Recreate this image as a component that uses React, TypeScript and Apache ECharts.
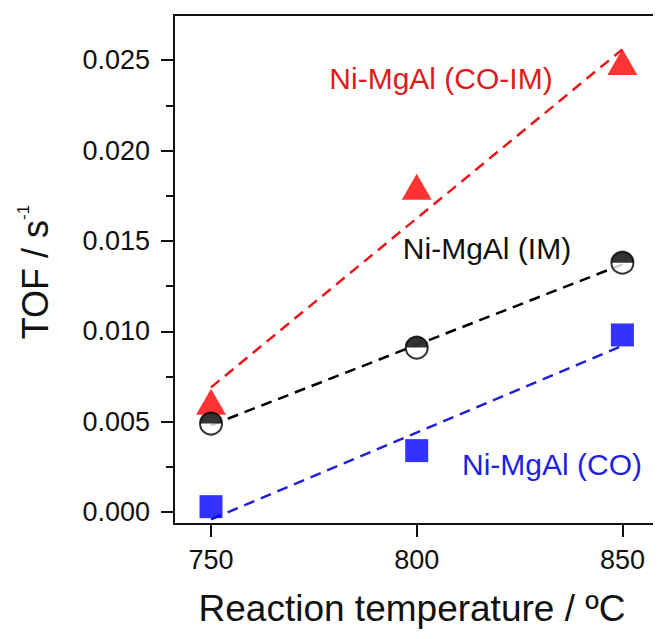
import React, { useEffect, useRef } from "react";
import * as echarts from "echarts";

const temps = [750, 800, 850];
const coImValues = [0.0061, 0.018, 0.0249];
const imValues = [0.0049, 0.0091, 0.0138];
const coValues = [0.0003, 0.0034, 0.0098];

const fitTemps = [750, 850];
const coImFit = [0.0069, 0.0256];
const imFit = [0.0048, 0.0137];
const coFit = [-0.0004, 0.0092];

const xTicks = [750, 800, 850];
const yTicks = [0, 0.005, 0.01, 0.015, 0.02, 0.025];
const yMinorTicks = [0.0025, 0.0075, 0.0125, 0.0175, 0.0225];

const seriesNames = ["Ni-MgAl (CO-IM)", "Ni-MgAl (IM)", "Ni-MgAl (CO)"];

const FONT = 'Arial, "Liberation Sans", Helvetica, sans-serif';
const RED = "#ff0000";
const RED_LINE = "#e8161b";
const BLUE = "#0000ff";
const BLUE_LINE = "#1f1fd6";
const AXIS = "#111111";

const X_MIN = 741;
const X_MAX = 864;
const Y_MIN = -0.00066;
const Y_MAX = 0.0275;

const pairs = (xs: number[], ys: number[]) => xs.map((x, i) => [x, ys[i]]);

export default function App() {
  const ref = useRef<HTMLDivElement>(null);
  useEffect(() => {
    if (!ref.current) return;
    const chart = echarts.init(ref.current, null, { renderer: "svg" });
    const dashed = (color: string) => ({
      color,
      width: 2.5,
      type: [11, 7] as number[],
    });
    const gridBox = {
      left: 174,
      top: 15,
      width: 506,
      height: 509,
      containLabel: false,
      outerBoundsMode: "none",
    };
    chart.setOption({
      animation: false,
      backgroundColor: "#ffffff",
      grid: [gridBox, { ...gridBox }],
      xAxis: [
        {
          type: "value",
          gridIndex: 0,
          min: X_MIN,
          max: X_MAX,
          position: "bottom",
          axisLine: { show: true, onZero: false, lineStyle: { color: AXIS, width: 2 } },
          axisTick: {
            show: true,
            customValues: xTicks,
            length: 13,
            lineStyle: { color: AXIS, width: 2 },
          },
          axisLabel: {
            customValues: xTicks,
            margin: 22,
            fontSize: 27,
            color: "#111",
            fontFamily: FONT,
          },
          splitLine: { show: false },
        },
        {
          type: "value",
          gridIndex: 1,
          min: X_MIN,
          max: X_MAX,
          position: "top",
          axisLine: { show: true, onZero: false, lineStyle: { color: AXIS, width: 2 } },
          axisTick: { show: false },
          axisLabel: { show: false },
          splitLine: { show: false },
        },
      ],
      yAxis: [
        {
          type: "value",
          gridIndex: 0,
          min: Y_MIN,
          max: Y_MAX,
          position: "left",
          axisLine: { show: true, onZero: false, lineStyle: { color: AXIS, width: 2 } },
          axisTick: {
            show: true,
            customValues: yTicks,
            length: 13,
            lineStyle: { color: AXIS, width: 2 },
          },
          axisLabel: {
            customValues: yTicks,
            formatter: (v: number) => v.toFixed(3),
            margin: 24,
            fontSize: 27,
            color: "#111",
            fontFamily: FONT,
          },
          splitLine: { show: false },
        },
        {
          type: "value",
          gridIndex: 1,
          min: Y_MIN,
          max: Y_MAX,
          position: "left",
          axisLine: { show: false, onZero: false },
          axisTick: {
            show: true,
            customValues: yMinorTicks,
            length: 8,
            lineStyle: { color: AXIS, width: 2 },
          },
          axisLabel: { show: false },
          splitLine: { show: false },
        },
      ],
      series: [
        {
          name: seriesNames[0] + " fit",
          type: "line",
          data: pairs(fitTemps, coImFit),
          showSymbol: false,
          symbol: "none",
          lineStyle: dashed(RED_LINE),
          z: 1,
        },
        {
          name: seriesNames[1] + " fit",
          type: "line",
          data: pairs(fitTemps, imFit),
          showSymbol: false,
          symbol: "none",
          lineStyle: dashed("#000"),
          z: 1,
        },
        {
          name: seriesNames[2] + " fit",
          type: "line",
          data: pairs(fitTemps, coFit),
          showSymbol: false,
          symbol: "none",
          lineStyle: dashed(BLUE_LINE),
          z: 1,
        },
        {
          name: seriesNames[0],
          type: "scatter",
          data: pairs(temps, coImValues),
          symbol: "triangle",
          symbolSize: [30, 26],
          itemStyle: { color: RED },
          z: 3,
        },
        {
          name: seriesNames[1],
          type: "scatter",
          data: pairs(temps, imValues),
          symbol: "circle",
          symbolSize: 22,
          itemStyle: { color: "#fff", borderColor: "#000", borderWidth: 2 },
          z: 4,
        },
        {
          name: seriesNames[1] + " top",
          type: "scatter",
          data: pairs(temps, imValues),
          symbol: "path://M0,10 A10,10 0 0 1 20,10 Z",
          symbolSize: [22, 11],
          symbolOffset: [0, -5.5],
          itemStyle: { color: "#000" },
          z: 5,
        },
        {
          name: seriesNames[2],
          type: "scatter",
          data: pairs(temps, coValues),
          symbol: "rect",
          symbolSize: 23,
          itemStyle: { color: BLUE },
          z: 3,
        },
      ],
      graphic: [
        {
          type: "text",
          x: 441,
          y: 78,
          style: {
            text: seriesNames[0],
            fill: "#e01b1b",
            font: `30px ${FONT}`,
            align: "center",
            verticalAlign: "middle",
          },
        },
        {
          type: "text",
          x: 487,
          y: 248,
          style: {
            text: seriesNames[1],
            fill: "#111",
            font: `30px ${FONT}`,
            align: "center",
            verticalAlign: "middle",
          },
        },
        {
          type: "text",
          x: 552,
          y: 464,
          style: {
            text: seriesNames[2],
            fill: "#1f1fe0",
            font: `30px ${FONT}`,
            align: "center",
            verticalAlign: "middle",
          },
        },
        {
          type: "text",
          x: 412,
          y: 608,
          style: {
            text: "Reaction temperature / ºC",
            fill: "#111",
            font: `37px ${FONT}`,
            align: "center",
            verticalAlign: "middle",
          },
        },
        {
          type: "text",
          x: 35,
          y: 272,
          rotation: Math.PI / 2,
          style: {
            text: "{a|TOF / s}{b|-1}",
            align: "center",
            verticalAlign: "middle",
            rich: {
              a: { fontSize: 36, fontFamily: FONT, fill: "#111", color: "#111", lineHeight: 40 },
              b: {
                fontSize: 17,
                fontFamily: FONT,
                fill: "#111",
                color: "#111",
                lineHeight: 40,
                verticalAlign: "top",
              },
            },
          },
        },
      ],
    });
    return () => chart.dispose();
  }, []);
  return (
    <div
      style={{
        position: "fixed",
        left: 0,
        top: 0,
        width: 653,
        height: 639,
        overflow: "hidden",
        background: "#fff",
      }}
    >
      <div ref={ref} style={{ width: 690, height: 639 }} />
    </div>
  );
}
